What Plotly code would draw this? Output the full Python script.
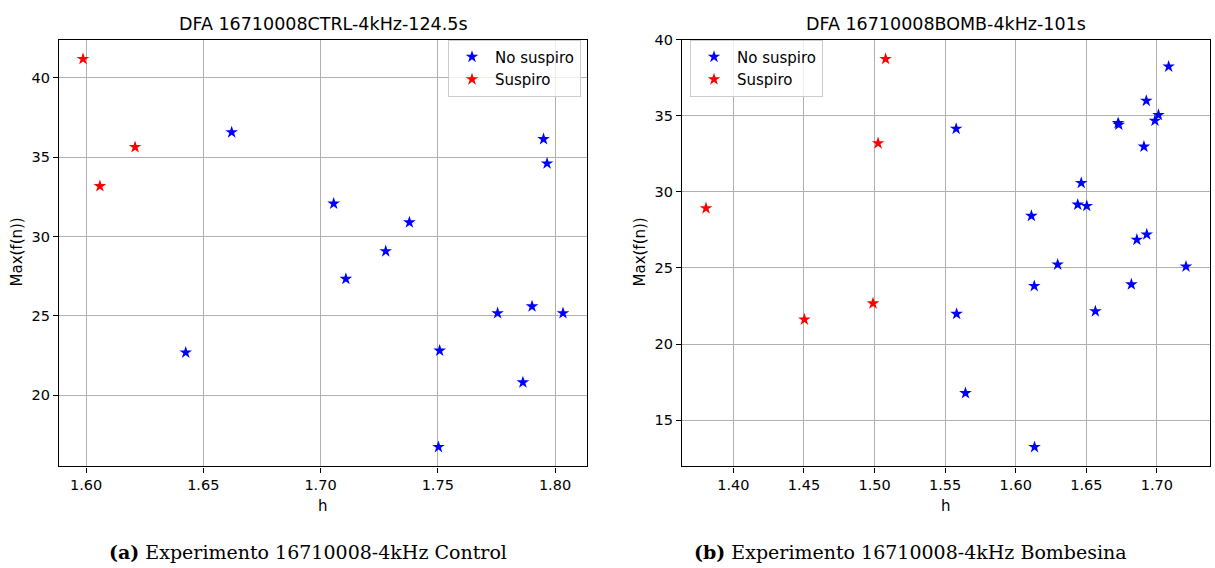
import plotly.graph_objects as go

# ---- data ----
ctrl_no_h = [1.6425, 1.6621, 1.7056, 1.7108, 1.7278, 1.7379, 1.7508, 1.7503,
             1.7755, 1.7863, 1.7902, 1.7951, 1.7966, 1.8034]
ctrl_no_max = [22.69, 36.56, 32.07, 27.33, 29.07, 30.89, 22.81, 16.74,
               25.17, 20.81, 25.60, 36.13, 34.60, 25.17]
ctrl_si_h = [1.5987, 1.6059, 1.6209]
ctrl_si_max = [41.18, 33.17, 35.63]

bomb_no_h = [1.5578, 1.5581, 1.5644, 1.6111, 1.6131, 1.6133, 1.6297, 1.6439,
             1.6464, 1.6503, 1.6564, 1.6725, 1.6730, 1.6819, 1.6858, 1.6908,
             1.6925, 1.6928, 1.6986, 1.7011, 1.7083, 1.7206]
bomb_no_max = [34.14, 21.98, 16.77, 28.42, 23.81, 13.23, 25.22, 29.16,
               30.58, 29.07, 22.15, 34.52, 34.41, 23.92, 26.85, 32.97,
               35.98, 27.20, 34.67, 35.05, 38.23, 25.09]
bomb_si_h = [1.3806, 1.4503, 1.4989, 1.5025, 1.5078]
bomb_si_max = [28.92, 21.61, 22.67, 33.19, 38.73]

titles = ["DFA 16710008CTRL-4kHz-124.5s", "DFA 16710008BOMB-4kHz-101s"]
captions = [("(a)", "Experimento 16710008-4kHz Control"),
            ("(b)", "Experimento 16710008-4kHz Bombesina")]
series_names = ["No suspiro", "Suspiro"]
left_xticks = [1.60, 1.65, 1.70, 1.75, 1.80]
left_yticks = [20, 25, 30, 35, 40]
right_xticks = [1.40, 1.45, 1.50, 1.55, 1.60, 1.65, 1.70]
right_yticks = [15, 20, 25, 30, 35, 40]

W, H = 1215, 568
FONT = "DejaVu Sans"


def auto_range(a, b, m=0.05):
    lo, hi = min(a + b), max(a + b)
    s = hi - lo
    return [lo - m * s, hi + m * s]


fig = go.Figure()

star = dict(symbol="star", size=9.5, line=dict(width=0))

fig.add_trace(go.Scatter(x=ctrl_no_h, y=ctrl_no_max, mode="markers", name=series_names[0],
                         marker=dict(color="#0000ff", **star), xaxis="x", yaxis="y", legend="legend"))
fig.add_trace(go.Scatter(x=ctrl_si_h, y=ctrl_si_max, mode="markers", name=series_names[1],
                         marker=dict(color="#ff0000", **star), xaxis="x", yaxis="y", legend="legend"))
fig.add_trace(go.Scatter(x=bomb_no_h, y=bomb_no_max, mode="markers", name=series_names[0],
                         marker=dict(color="#0000ff", **star), xaxis="x2", yaxis="y2", legend="legend2"))
fig.add_trace(go.Scatter(x=bomb_si_h, y=bomb_si_max, mode="markers", name=series_names[1],
                         marker=dict(color="#ff0000", **star), xaxis="x2", yaxis="y2", legend="legend2"))

px = lambda v: v / W
py = lambda v: (H - v) / H

left_dom = [px(59), px(587)]
right_dom = [px(682), px(1210)]
ydom = [py(465), py(32)]

axis_common = dict(
    showline=True, linecolor="black", linewidth=1.2, mirror=True,
    showgrid=True, gridcolor="#b0b0b0", gridwidth=1,
    ticks="outside", ticklen=5, tickwidth=1, tickcolor="black",
    tickfont=dict(family=FONT, size=14.5, color="black"),
    zeroline=False,
)

legend_common = dict(xanchor="left", yanchor="top",
                     bgcolor="rgba(255,255,255,0.8)", bordercolor="#cccccc", borderwidth=1,
                     font=dict(family=FONT, size=15, color="black"), itemwidth=36)

fig.update_layout(
    width=W, height=H,
    margin=dict(l=0, r=0, t=0, b=0),
    paper_bgcolor="white", plot_bgcolor="white",
    font=dict(family=FONT, size=14, color="black"),
    xaxis=dict(domain=left_dom, anchor="y", range=auto_range(ctrl_no_h, ctrl_si_h),
               tickvals=left_xticks, tickformat=".2f", **axis_common),
    yaxis=dict(domain=ydom, anchor="x", range=auto_range(ctrl_no_max, ctrl_si_max),
               tickvals=left_yticks, **axis_common),
    xaxis2=dict(domain=right_dom, anchor="y2", range=auto_range(bomb_no_h, bomb_si_h),
                tickvals=right_xticks, tickformat=".2f", **axis_common),
    yaxis2=dict(domain=ydom, anchor="x2", range=auto_range(bomb_no_max, bomb_si_max),
                tickvals=right_yticks, **axis_common),
    legend=dict(x=px(448), y=py(32), **legend_common),
    legend2=dict(x=px(690), y=py(32), **legend_common),
    showlegend=True,
)

ann = []
for cx, t in zip([323, 946], titles):
    ann.append(dict(text=t, x=px(cx), y=py(16), xref="paper", yref="paper",
                    showarrow=False, xanchor="center", yanchor="middle",
                    font=dict(family=FONT, size=17.5, color="black")))
for cx in [323, 946]:
    ann.append(dict(text="h", x=px(cx), y=py(505), xref="paper", yref="paper",
                    showarrow=False, xanchor="center", yanchor="middle",
                    font=dict(family=FONT, size=15, color="black")))
for cx in [17, 640]:
    ann.append(dict(text="Max(f(n))", x=px(cx), y=py(248), xref="paper", yref="paper",
                    showarrow=False, xanchor="center", yanchor="middle", textangle=-90,
                    font=dict(family=FONT, size=15, color="black")))
for cx, (lab, txt) in zip([308, 910], captions):
    ann.append(dict(text="<b>" + lab + "</b> " + txt, x=px(cx), y=py(552),
                    xref="paper", yref="paper", showarrow=False,
                    xanchor="center", yanchor="middle",
                    font=dict(family="DejaVu Serif", size=19, color="black")))
fig.update_layout(annotations=ann)

fig.write_html("out.html")
